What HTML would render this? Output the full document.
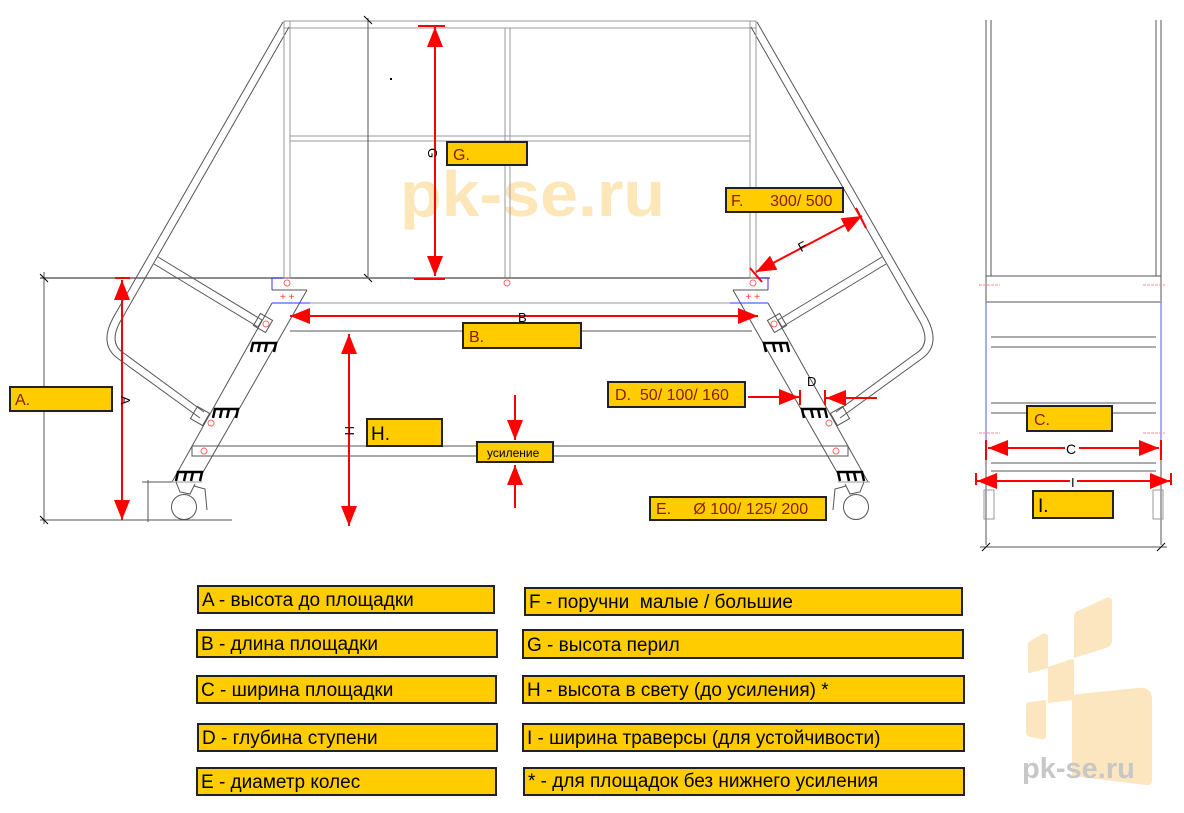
<!DOCTYPE html>
<html><head><meta charset="utf-8"><style>
html,body{margin:0;padding:0;background:#fff;}
svg{display:block;font-family:"Liberation Sans",sans-serif;}
.g{stroke:#555;stroke-width:1;fill:none;}
.gl{stroke:#999;stroke-width:1;fill:none;}
.r{stroke:#ff0000;stroke-width:2;fill:none;}
.box{fill:#ffcc00;stroke:#222;stroke-width:2;}
.lb{fill:#8b1a00;font-size:16px;}
.lg{fill:#000;font-size:19px;}
.st{stroke:#000;stroke-width:2.5;fill:none;}
</style></head><body>
<svg width="1184" height="813" viewBox="0 0 1184 813">
<defs>
<marker id="ah" viewBox="0 0 10 8" refX="10" refY="4" markerWidth="10" markerHeight="8" orient="auto-start-reverse" markerUnits="strokeWidth"><path d="M0,0 L10,4 L0,8z" fill="#ff0000"/></marker>
<g id="half">
  <path class="g" d="M283,22 L113,318 Q98,346 120,360 L200,418"/>
  <path class="g" d="M289,27 L120,322 Q108,344 125,354 L204,412"/>
  <path class="g" d="M158,257 L262,320 M154,264 L258,327 M262,320 L258,327"/>
  <rect x="256" y="316" width="14" height="14" class="g" transform="rotate(30 263 323)"/>
  <rect x="193" y="409" width="14" height="14" class="g" transform="rotate(30 200 416)"/>
  <circle cx="266" cy="324" r="3" stroke="#f66" fill="none"/>
  <circle cx="211" cy="423" r="3" stroke="#f66" fill="none"/>
  <path class="g" d="M307,290 L202,474 M272,303 L172,482 M272,290 L307,290"/>
  <path d="M272,290 L272,278 L285,278" stroke="#33f" fill="none"/>
  <path d="M272,303 L310,303" stroke="#33f" fill="none"/>
  <text x="280" y="300" fill="#f33" font-size="10">+ +</text>
  <path class="st" d="M251,352 L253,343 L276,343 L274,352 M260,343 L258,352 M267,343 L265,352"/>
  <path class="st" d="M213,418 L215,409 L238,409 L236,418 M222,409 L220,418 M229,409 L227,418"/>
  <path class="st" d="M176,481 L178,472 L202,472 L200,481 M186,472 L184,481 M193,472 L191,481"/>
  <path class="gl" d="M170,482 L202,482"/>
  <path class="g" d="M176,482 L180,492 L190,494 L195,484 M194,486 L205,489 L207,510"/>
  <circle cx="184" cy="507" r="12.5" class="g"/>
  <rect x="284" y="21" width="6" height="257" class="gl" stroke="#777"/>
  <circle cx="287" cy="283" r="3" stroke="#f66" fill="none"/>
</g>
</defs>

<text x="400" y="216" font-size="64" font-weight="bold" fill="#fde6b8" textLength="265" lengthAdjust="spacingAndGlyphs">pk-se.ru</text>

<rect x="284" y="21" width="472" height="7" class="gl" stroke="#888"/>
<rect x="290" y="136" width="460" height="5" class="gl" stroke="#888"/>
<rect x="505" y="28" width="5" height="250" class="gl" stroke="#777"/>
<circle cx="507" cy="283" r="3" stroke="#f66" fill="none"/>
<line x1="368" y1="18" x2="368" y2="278" class="g"/>
<line x1="364" y1="16" x2="372" y2="24" stroke="#000"/>
<line x1="364" y1="274" x2="372" y2="282" stroke="#000"/>
<rect x="390" y="78" width="2" height="2" fill="#000"/>
<line x1="40" y1="278" x2="770" y2="278" stroke="#666" stroke-width="1.5"/>
<line x1="310" y1="303" x2="732" y2="303" class="gl"/>
<line x1="290" y1="331" x2="752" y2="331" class="g"/>
<rect x="192" y="446" width="656" height="10" class="g"/>
<circle cx="204" cy="451" r="3" stroke="#f66" fill="none"/>
<circle cx="836" cy="451" r="3" stroke="#f66" fill="none"/>

<use href="#half"/>
<use href="#half" transform="matrix(-1,0,0,1,1040,0)"/>

<line x1="40" y1="520" x2="232" y2="520" class="g"/>
<line x1="44" y1="272" x2="44" y2="524" class="g"/>
<line x1="40" y1="274" x2="48" y2="282" stroke="#000"/>
<line x1="40" y1="516" x2="48" y2="524" stroke="#000"/>
<line x1="148" y1="480" x2="148" y2="522" class="g"/>
<line x1="142" y1="482" x2="172" y2="482" class="g"/>

<line x1="122" y1="280" x2="122" y2="520" class="r" marker-start="url(#ah)" marker-end="url(#ah)"/>
<line x1="115" y1="278" x2="130" y2="278" class="r"/>
<line x1="435" y1="27" x2="435" y2="276" class="r" marker-start="url(#ah)" marker-end="url(#ah)"/>
<line x1="418" y1="26" x2="445" y2="26" class="r"/><line x1="414" y1="279" x2="445" y2="279" class="r"/>
<line x1="290" y1="316" x2="758" y2="316" class="r" marker-start="url(#ah)" marker-end="url(#ah)"/>
<line x1="349" y1="334" x2="349" y2="526" class="r" marker-start="url(#ah)" marker-end="url(#ah)"/>
<line x1="756" y1="272" x2="862" y2="216" class="r" marker-start="url(#ah)" marker-end="url(#ah)"/>
<line x1="750" y1="268" x2="762" y2="282" class="r" stroke-width="1.5"/>
<line x1="856" y1="208" x2="866" y2="228" class="r" stroke-width="1.5"/>
<line x1="748" y1="397" x2="799" y2="397" class="r" marker-end="url(#ah)"/>
<line x1="877" y1="398" x2="826" y2="398" class="r" marker-end="url(#ah)"/>
<line x1="800" y1="390" x2="800" y2="405" class="r" stroke-width="1"/><line x1="825" y1="390" x2="825" y2="405" class="r" stroke-width="1"/>
<line x1="515" y1="395" x2="515" y2="440" class="r" marker-end="url(#ah)"/>
<line x1="515" y1="508" x2="515" y2="465" class="r" marker-end="url(#ah)"/>

<text x="117" y="400" font-size="13" transform="rotate(90 121 400)">A</text>
<text x="343" y="436" font-size="13" transform="rotate(90 349 432)">H</text>
<text x="428" y="158" font-size="13" transform="rotate(90 433 153)">G</text>
<text x="518" y="322" font-size="13">B</text>
<text x="798" y="250" font-size="13" transform="rotate(-28 804 245)">F</text>
<text x="807" y="386" font-size="13">D</text>

<rect x="10" y="387" width="102" height="24" class="box"/><text x="15" y="405" class="lb">A.</text>
<rect x="447" y="142" width="80" height="23" class="box"/><text x="453" y="160" class="lb">G.</text>
<rect x="726" y="188" width="117" height="24" class="box"/><text x="731" y="206" class="lb">F.&#160;&#160;&#160;&#160;&#160;&#160;300/ 500</text>
<rect x="463" y="323" width="118" height="25" class="box"/><text x="469" y="342" class="lb">B.</text>
<rect x="367" y="419" width="75" height="27" class="box"/><text x="371" y="440" font-size="19" fill="#000">H.</text>
<rect x="608" y="382" width="137" height="25" class="box"/><text x="615" y="400" class="lb">D.&#160;&#160;50/ 100/ 160</text>
<rect x="477" y="442" width="76" height="20" class="box"/><text x="487" y="457" font-size="12" fill="#000">усиление</text>
<rect x="650" y="497" width="176" height="23" class="box"/><text x="656" y="514" class="lb">E.&#160;&#160;&#160;&#160;&#160;Ø 100/ 125/ 200</text>

<g>
<line x1="986" y1="20" x2="986" y2="545" class="g"/>
<line x1="991" y1="20" x2="991" y2="276" class="g"/>
<line x1="1161" y1="20" x2="1161" y2="545" class="g"/>
<line x1="1156" y1="20" x2="1156" y2="276" class="g"/>
<line x1="986" y1="276" x2="1161" y2="276" class="g"/>
<line x1="986" y1="302" x2="1161" y2="302" stroke="#aaa" stroke-width="2"/>
<line x1="991" y1="337" x2="1156" y2="337" class="g"/>
<line x1="991" y1="347" x2="1156" y2="347" class="g"/>
<line x1="991" y1="403" x2="1156" y2="403" class="g"/>
<line x1="991" y1="413" x2="1156" y2="413" class="g"/>
<line x1="991" y1="463" x2="1156" y2="463" class="g"/>
<line x1="991" y1="471" x2="1156" y2="471" stroke="#aaa" stroke-width="2"/>
<line x1="986" y1="302" x2="986" y2="440" stroke="#55f"/>
<line x1="1161" y1="302" x2="1161" y2="440" stroke="#55f"/>
<line x1="979" y1="285" x2="1000" y2="285" stroke="#f88" stroke-dasharray="3,1"/>
<line x1="1143" y1="285" x2="1165" y2="285" stroke="#f88" stroke-dasharray="3,1"/>
<line x1="979" y1="433" x2="1000" y2="433" stroke="#f88" stroke-dasharray="3,1"/>
<line x1="1143" y1="433" x2="1165" y2="433" stroke="#f88" stroke-dasharray="3,1"/>
<rect x="984" y="490" width="10" height="29" class="gl"/>
<rect x="1153" y="490" width="10" height="29" class="gl"/>
<line x1="980" y1="547" x2="1167" y2="547" class="g"/>
<line x1="982" y1="551" x2="990" y2="543" stroke="#000"/>
<line x1="1157" y1="551" x2="1165" y2="543" stroke="#000"/>
<line x1="988" y1="448" x2="1159" y2="448" class="r" marker-start="url(#ah)" marker-end="url(#ah)"/>
<path class="r" stroke-width="1" d="M986,440 L986,460 M1161,440 L1161,460"/>
<line x1="977" y1="481" x2="1170" y2="481" class="r" marker-start="url(#ah)" marker-end="url(#ah)"/>
<path class="r" stroke-width="1" d="M976,473 L976,485 M1171,473 L1171,485"/>
<rect x="1065" y="440" width="14" height="16" fill="#fff"/>
<text x="1066" y="454" font-size="14">C</text>
<rect x="1070" y="474" width="7" height="14" fill="#fff"/>
<text x="1071" y="487" font-size="13">I</text>
<rect x="1027" y="406" width="85" height="25" class="box"/><text x="1034" y="425" class="lb">C.</text>
<rect x="1033" y="491" width="80" height="27" class="box"/><text x="1038" y="512" font-size="19" fill="#000">I.</text>
</g>

<g fill="#fce6c0">
<path d="M1028,648 Q1026,643 1032,640 L1042,634 Q1048,632 1048,638 L1048,668 L1030,673 Q1028,674 1028,670z"/>
<path d="M1074,618 Q1073,612 1080,610 L1106,598 Q1112,596 1112,602 L1112,640 Q1112,646 1106,648 L1074,658z"/>
<path d="M1048,667 L1072,659 L1074,660 L1074,700 L1048,703z"/>
<path d="M1026,706 Q1026,702 1030,702 L1046,700 L1046,736 Q1046,740 1042,739 L1030,737 Q1026,736 1026,732z"/>
<path d="M1072,700 Q1072,695 1078,694 L1138,688 Q1152,686 1152,700 L1152,780 Q1152,786 1146,785 L1072,776z"/>
</g>
<text x="1022" y="778" font-size="29" font-weight="bold" fill="#c7c7c7">pk-se.ru</text>

<rect x="198" y="586" width="296" height="27" class="box"/><text x="202" y="606" class="lg">A - высота до площадки</text>
<rect x="197" y="630" width="300" height="27" class="box"/><text x="201" y="650" class="lg">B - длина площадки</text>
<rect x="197" y="676" width="299" height="27" class="box"/><text x="201" y="696" class="lg">C - ширина площадки</text>
<rect x="198" y="724" width="299" height="27" class="box"/><text x="202" y="744" class="lg">D - глубина ступени</text>
<rect x="197" y="768" width="299" height="27" class="box"/><text x="201" y="788" class="lg">E - диаметр колес</text>
<rect x="525" y="588" width="437" height="27" class="box"/><text x="529" y="608" class="lg">F - поручни&#160;&#160;малые / большие</text>
<rect x="523" y="630" width="440" height="28" class="box"/><text x="527" y="651" class="lg">G - высота перил</text>
<rect x="523" y="676" width="441" height="27" class="box"/><text x="527" y="696" class="lg">H - высота в свету (до усиления) *</text>
<rect x="523" y="724" width="441" height="27" class="box"/><text x="527" y="744" class="lg">I - ширина траверсы (для устойчивости)</text>
<rect x="524" y="768" width="440" height="27" class="box"/><text x="528" y="787" class="lg">* - для площадок без нижнего усиления</text>
</svg>
</body></html>
